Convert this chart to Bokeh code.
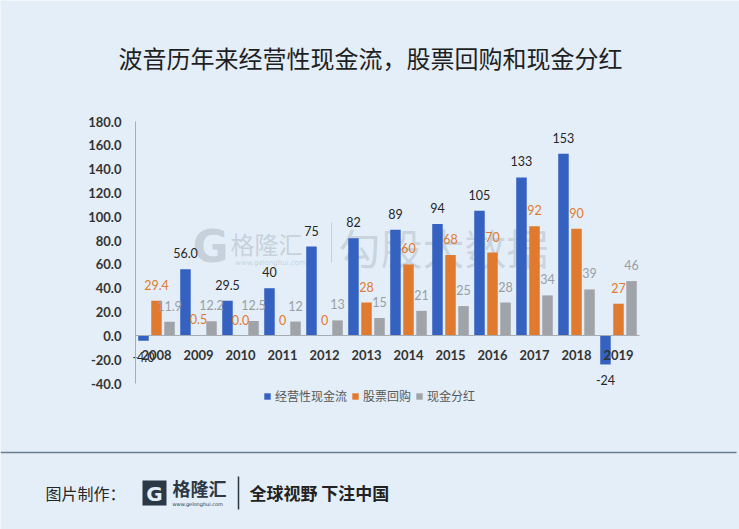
from bokeh.plotting import figure
from bokeh.models import (ColumnDataSource, Range1d, Legend, LegendItem, LinearAxis,
                          FixedTicker, PrintfTickFormatter)
from bokeh.transform import dodge
from bokeh.core.properties import value
from bokeh.embed import file_html
from bokeh.resources import INLINE

# ---- data ----
years = ["2008", "2009", "2010", "2011", "2012", "2013", "2014", "2015",
         "2016", "2017", "2018", "2019"]
ocf = [-4.0, 56.0, 29.5, 40, 75, 82, 89, 94, 105, 133, 153, -24]
buyback = [29.4, 0.5, 0.0, 0, 0, 28, 60, 68, 70, 92, 90, 27]
dividend = [11.9, 12.2, 12.5, 12, 13, 15, 21, 25, 28, 34, 39, 46]
ocf_labels = ["-4.0", "56.0", "29.5", "40", "75", "82", "89", "94", "105", "133", "153", "-24"]
buyback_labels = ["29.4", "0.5", "0.0", "0", "0", "28", "60", "68", "70", "92", "90", "27"]
dividend_labels = ["11.9", "12.2", "12.5", "12", "13", "15", "21", "25", "28", "34", "39", "46"]
y_ticks = [-40, -20, 0, 20, 40, 60, 80, 100, 120, 140, 160, 180]
series_names = ["经营性现金流", "股票回购", "现金分红"]
title_text = "波音历年来经营性现金流，股票回购和现金分红"
footer_left = "图片制作："
footer_brand = "格隆汇"
footer_url = "www.gelonghui.com"
footer_slogan = "全球视野 下注中国"
watermark = "勾股大数据"

# ---- style / geometry ----
BLUE = "#3561c0"
ORANGE = "#e07a2e"
GRAY = "#a0a4a8"
BG = "#e3eef8"
AX = "#a8adb3"
CJK = "Noto Sans CJK SC"
NUM = "Lato"
W, H = 739, 529
PLOT_L, PLOT_R = 135, 639            # canvas columns of the category band
Y_TOP_PX, Y_BOT_PX = 121, 383        # canvas rows of 180 and -40
Y_MIN, Y_MAX = -40, 180

n = len(years)
cat_px = (PLOT_R - PLOT_L) / n
ppu = (Y_BOT_PX - Y_TOP_PX) / (Y_MAX - Y_MIN)
x_lo = -0.5 - PLOT_L / cat_px
x_hi = n - 0.5 + (W - PLOT_R) / cat_px
y_hi = Y_MAX + Y_TOP_PX / ppu
y_lo = Y_MIN - (H - Y_BOT_PX) / ppu

p = figure(width=W, height=H, x_range=Range1d(x_lo, x_hi), y_range=Range1d(y_lo, y_hi),
           output_backend="svg", toolbar_location=None, title=None,
           x_axis_type=None, y_axis_type=None, min_border=0, min_border_left=0,
           min_border_right=0, min_border_top=0, min_border_bottom=0)
p.background_fill_color = BG
p.border_fill_color = BG
p.outline_line_color = None
p.grid.visible = False
p.extra_x_ranges = {"px": Range1d(0, W)}
p.extra_y_ranges = {"px": Range1d(H, 0)}
PX = dict(x_range_name="px", y_range_name="px")

xs = list(range(n))

# y axis at the left edge of the category band
ya = LinearAxis(fixed_location=-0.5, bounds=(Y_MIN, Y_MAX),
                ticker=FixedTicker(ticks=y_ticks), formatter=PrintfTickFormatter(format="%.1f"),
                axis_line_color=AX, major_tick_line_color=None, minor_tick_line_color=None,
                major_label_text_font=NUM, major_label_text_font_size="13px",
                major_label_text_font_style="bold", major_label_text_color="#333333",
                major_label_standoff=8)
p.add_layout(ya, "left")

# category axis crossing at zero
xa = LinearAxis(fixed_location=0, bounds=(-0.5, n - 0.5),
                ticker=FixedTicker(ticks=xs), major_label_overrides=dict(zip(xs, years)),
                axis_line_color=AX, major_tick_line_color=None, minor_tick_line_color=None,
                major_label_text_font=NUM, major_label_text_font_size="13px",
                major_label_text_font_style="bold", major_label_text_color="#333333",
                major_label_standoff=8)
p.add_layout(xa, "below")

# ---- watermark ----
p.text(x=[210], y=[246], text=["G"], text_align="center", text_baseline="middle",
       text_font=value("DejaVu Sans"), text_font_style="bold", text_font_size="44px",
       text_color="#7d8893", text_alpha=0.3, **PX)
p.text(x=[266], y=[243], text=["格隆汇"], text_align="center", text_baseline="middle",
       text_font=value(CJK), text_font_size="24px", text_color="#7d8893", text_alpha=0.3, **PX)
p.text(x=[270], y=[262], text=[footer_url], text_align="center", text_baseline="middle",
       text_font=value("DejaVu Sans"), text_font_size="7px", text_color="#7d8893",
       text_alpha=0.3, **PX)
p.segment(x0=[331], x1=[331], y0=[222], y1=[262], line_color="#7d8893", line_alpha=0.3, **PX)
p.text(x=[443], y=[246], text=[watermark], text_align="center", text_baseline="middle",
       text_font=value(CJK), text_font_size="42px", text_color="#7d8893", text_alpha=0.25, **PX)


def offs(vals):
    return [-16 if v >= 0 else 16 for v in vals]


src = ColumnDataSource(dict(x=xs, ocf=ocf, bb=buyback, dv=dividend,
                            ocf_l=ocf_labels, bb_l=buyback_labels, dv_l=dividend_labels,
                            ocf_o=offs(ocf), bb_o=offs(buyback), dv_o=offs(dividend)))

OFF = 0.31
BW = 0.25
series = [("ocf", -OFF, BLUE, "#262626"), ("bb", 0.0, ORANGE, "#e07a2e"),
          ("dv", OFF, GRAY, "#9a9ea3")]
bars = []
for key, off, col, lcol in series:
    bars.append(p.vbar(x=dodge("x", off), top=key, bottom=0, width=BW,
                       source=src, fill_color=col, line_color=None))
for key, off, col, lcol in series:
    p.text(x=dodge("x", off), y=key, text=key + "_l",
           y_offset=key + "_o", source=src, text_align="center", text_baseline="middle",
           text_font=value(NUM), text_font_size="12.5px", text_color=lcol)

legend = Legend(items=[LegendItem(label=s, renderers=[r]) for s, r in zip(series_names, bars)],
                orientation="horizontal", location=(263, H - 404), padding=0, margin=0,
                spacing=4, label_standoff=4, glyph_width=8, glyph_height=8,
                label_height=14, label_text_font=CJK, label_text_font_size="12px",
                label_text_color="#595959", border_line_color=None,
                background_fill_alpha=0)
p.add_layout(legend, "center")

# ---- title ----
p.text(x=[370], y=[57], text=[title_text], text_align="center", text_baseline="middle",
       text_font=value(CJK), text_font_size="24px", text_color="#1f1f1f", **PX)

# ---- footer ----
p.segment(x0=[0], x1=[736], y0=[452], y1=[452], line_color="#6b7f90", line_width=1.5, **PX)
p.text(x=[45], y=[492], text=[footer_left], text_align="left", text_baseline="middle",
       text_font=value(CJK), text_font_size="16px", text_color="#262626", **PX)
p.quad(left=[142], right=[166], top=[480], bottom=[505], fill_color="#2b3845",
       line_color=None, **PX)
p.text(x=[154], y=[493], text=["G"], text_align="center", text_baseline="middle",
       text_font=value("DejaVu Sans"), text_font_style="bold", text_font_size="20px",
       text_color=BG, **PX)
p.text(x=[172], y=[487], text=[footer_brand], text_align="left", text_baseline="middle",
       text_font=value(CJK), text_font_style="bold", text_font_size="18px",
       text_color="#2b3845", **PX)
p.text(x=[172], y=[503], text=[footer_url], text_align="left", text_baseline="middle",
       text_font=value("DejaVu Sans"), text_font_size="5px", text_color="#2b3845", **PX)
p.segment(x0=[238], x1=[238], y0=[476], y1=[509], line_color="#2b3845", line_width=1.5, **PX)
p.text(x=[249], y=[492], text=[footer_slogan], text_align="left", text_baseline="middle",
       text_font=value(CJK), text_font_style="bold", text_font_size="17px",
       text_color="#222222", **PX)

open("out.html", "w").write(file_html(p, INLINE))
